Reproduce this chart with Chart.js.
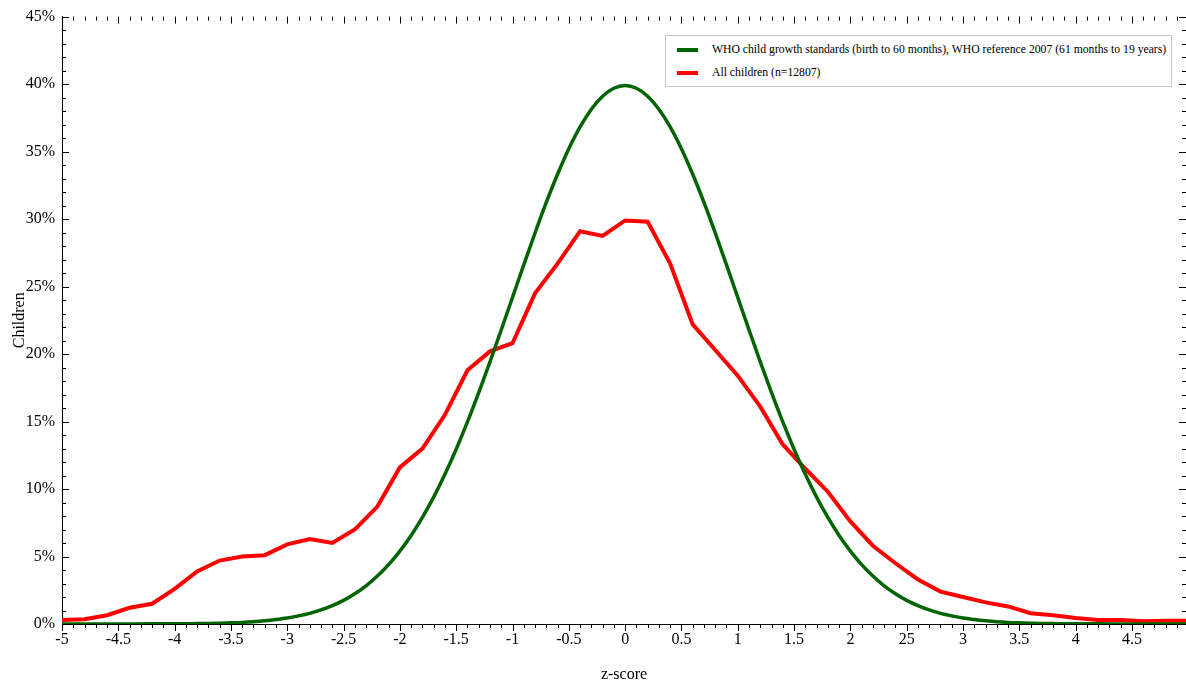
<!DOCTYPE html>
<html lang="en">
<head>
  <meta charset="UTF-8" />
  <title>z-score distribution</title>
  <script src="https://cdn.jsdelivr.net/npm/chart.js"></script>
  <style>
    body { margin: 0; background: #fff; }
    .wrap { position: relative; width: 1186px; height: 684px; }
    .legend {
      position: absolute; left: 665px; top: 35px; width: 505px; height: 50px;
      border: 1px solid #c8c8c8; background: #fff;
      font-family: "Liberation Serif", serif; font-size: 11.7px; color: #000;
    }
    .legend .item { position: absolute; left: 0; height: 14px; line-height: 14px; white-space: nowrap; }
    .legend .swatch { position: absolute; left: 11px; top: 5px; width: 21px; height: 4px; }
    .legend .label { position: absolute; left: 46px; top: 0; }
  </style>
</head>
<body>
  <div class="wrap">
    <canvas id="zChart" width="1186" height="684"></canvas>
    <div class="legend" id="legend"></div>
  </div>

  <script>
    // data
    const seriesNames = [
      ' WHO child growth standards (birth to 60 months), WHO reference 2007 (61 months to 19 years)',
      'All children (n=12807)'
    ];
    const seriesColors = ['#006400', '#ff0000'];

    const whoZ = [-5, -4.5, -4.2, -4.0, -3.9, -3.8, -3.7, -3.6, -3.5, -3.4, -3.3, -3.2, -3.1, -3.0,
      -2.9, -2.8, -2.7, -2.6, -2.5, -2.4, -2.3, -2.2, -2.1, -2.0, -1.9, -1.8, -1.7, -1.6, -1.5,
      -1.4, -1.3, -1.2, -1.1, -1.0, -0.9, -0.8, -0.7, -0.6, -0.5, -0.4, -0.3, -0.2, -0.1, 0,
      0.1, 0.2, 0.3, 0.4, 0.5, 0.6, 0.7, 0.8, 0.9, 1.0, 1.1, 1.2, 1.3, 1.4, 1.5, 1.6, 1.7, 1.8,
      1.9, 2.0, 2.1, 2.2, 2.3, 2.4, 2.5, 2.6, 2.7, 2.8, 2.9, 3.0, 3.1, 3.2, 3.3, 3.4, 3.5, 3.6,
      3.7, 3.8, 3.9, 4.0, 4.2, 4.5, 4.98];
    const whoPct = [0, 0, 0.01, 0.01, 0.02, 0.03, 0.04, 0.06, 0.09, 0.12, 0.17, 0.24, 0.33, 0.44,
      0.60, 0.79, 1.04, 1.36, 1.75, 2.24, 2.83, 3.55, 4.40, 5.40, 6.56, 7.90, 9.40, 11.09, 12.95,
      14.97, 17.14, 19.42, 21.79, 24.20, 26.61, 28.97, 31.23, 33.32, 35.21, 36.83, 38.14, 39.10, 39.69, 39.89,
      39.69, 39.10, 38.14, 36.83, 35.21, 33.32, 31.23, 28.97, 26.61, 24.20, 21.79, 19.42, 17.14, 14.97, 12.95, 11.09, 9.40, 7.90,
      6.56, 5.40, 4.40, 3.55, 2.83, 2.24, 1.75, 1.36, 1.04, 0.79, 0.60, 0.44, 0.33, 0.24, 0.17, 0.12, 0.09, 0.06,
      0.04, 0.03, 0.02, 0.01, 0.01, 0, 0];

    const allZ = [-5, -4.8, -4.6, -4.4, -4.2, -4.0, -3.8, -3.6, -3.4, -3.2, -3.0, -2.8, -2.6, -2.4,
      -2.2, -2.0, -1.8, -1.6, -1.4, -1.2, -1.0, -0.8, -0.6, -0.4, -0.2, 0, 0.2, 0.4, 0.6, 0.8,
      1.0, 1.2, 1.4, 1.6, 1.8, 2.0, 2.2, 2.4, 2.6, 2.8, 3.0, 3.2, 3.4, 3.6, 3.8, 4.0, 4.2, 4.4,
      4.6, 4.8, 4.98];
    const allPct = [0.3, 0.35, 0.65, 1.2, 1.5, 2.6, 3.9, 4.7, 5.0, 5.1, 5.9, 6.3, 6.0, 7.0,
      8.7, 11.6, 13.0, 15.5, 18.8, 20.2, 20.8, 24.5, 26.7, 29.1, 28.75, 29.9, 29.8, 26.7, 22.2, 20.3,
      18.4, 16.1, 13.3, 11.5, 9.8, 7.6, 5.8, 4.5, 3.3, 2.4, 2.0, 1.6, 1.3, 0.8, 0.65, 0.45, 0.3, 0.3,
      0.2, 0.25, 0.25];

    const xTickValues = [-5, -4.5, -4, -3.5, -3, -2.5, -2, -1.5, -1, -0.5, 0, 0.5, 1, 1.5, 2, 2.5, 3, 3.5, 4, 4.5];
    const xTickLabels = ['-5', '-4.5', '-4', '-3.5', '-3', '-2.5', '-2', '-1.5', '-1', '-0.5', '0', '0.5', '1', '1.5', '2', '25', '3', '3.5', '4', '4.5'];
    const yTickValues = [0, 5, 10, 15, 20, 25, 30, 35, 40, 45];

    const serif = 'Liberation Serif';

    // tick marks on all four sides (minor + major), drawn through the scales
    const frameTicks = {
      id: 'frameTicks',
      afterDraw(chart) {
        const { ctx, chartArea: a, scales: { x, y } } = chart;
        ctx.save();
        ctx.strokeStyle = '#000';
        ctx.lineWidth = 1;
        ctx.beginPath();
        for (let i = 0; i < 100; i++) {
          const v = -5 + i * 0.1;
          const px = Math.round(x.getPixelForValue(v)) + 0.5;
          const len = i % 5 === 0 ? 7 : 4;
          ctx.moveTo(px, a.bottom); ctx.lineTo(px, a.bottom + len);
          ctx.moveTo(px, a.top); ctx.lineTo(px, a.top + len);
        }
        for (let i = 0; i <= 45; i++) {
          const py = Math.round(y.getPixelForValue(i)) + 0.5;
          const len = i % 5 === 0 ? 7 : 4;
          ctx.moveTo(a.left, py); ctx.lineTo(a.left + len, py);
          ctx.moveTo(a.right, py); ctx.lineTo(a.right - len, py);
        }
        ctx.stroke();
        ctx.restore();
      }
    };

    const ctx = document.getElementById('zChart').getContext('2d');
    new Chart(ctx, {
      type: 'line',
      data: {
        datasets: [
          {
            label: seriesNames[0],
            data: whoZ.map((z, i) => ({ x: z, y: whoPct[i] })),
            borderColor: seriesColors[0],
            borderWidth: 3.5,
            pointRadius: 0,
            cubicInterpolationMode: 'monotone'
          },
          {
            label: seriesNames[1],
            data: allZ.map((z, i) => ({ x: z, y: allPct[i] })),
            borderColor: seriesColors[1],
            borderWidth: 4,
            pointRadius: 0,
            tension: 0
          }
        ]
      },
      options: {
        responsive: false,
        animation: false,
        layout: { padding: { top: 10, left: 0, right: 0, bottom: 0 } },
        plugins: {
          legend: { display: false },
          tooltip: { enabled: false }
        },
        scales: {
          x: {
            type: 'linear',
            min: -5,
            max: 4.98,
            grid: { display: false, drawTicks: false },
            border: { display: true, color: '#000', width: 1 },
            afterBuildTicks: s => { s.ticks = xTickValues.map(v => ({ value: v })); },
            afterFit: s => { s.height = 60; },
            ticks: {
              autoSkip: false,
              maxRotation: 0,
              padding: 6,
              color: '#000',
              font: { family: serif, size: 16 },
              callback: (v) => xTickLabels[xTickValues.indexOf(v)]
            },
            title: {
              display: true,
              text: 'z-score',
              color: '#000',
              font: { family: serif, size: 16 },
              padding: { top: 0, bottom: 0 }
            }
          },
          y: {
            min: 0,
            max: 45,
            grid: { display: false, drawTicks: false },
            border: { display: true, color: '#000', width: 1 },
            afterBuildTicks: s => { s.ticks = yTickValues.map(v => ({ value: v })); },
            afterFit: s => { s.width = 62; },
            ticks: {
              padding: 7,
              color: '#000',
              font: { family: serif, size: 16 },
              callback: v => v + '%'
            },
            title: {
              display: true,
              text: 'Children',
              color: '#000',
              font: { family: serif, size: 16 },
              padding: { top: 10, bottom: 0 }
            }
          }
        }
      },
      plugins: [frameTicks]
    });

    // legend box
    const legend = document.getElementById('legend');
    const legendTops = [7, 30];
    seriesNames.forEach((name, i) => {
      const item = document.createElement('div');
      item.className = 'item';
      item.style.top = legendTops[i] + 'px';
      item.innerHTML = '<span class="swatch" style="background:' + seriesColors[i] + '"></span>' +
        '<span class="label"></span>';
      item.querySelector('.label').textContent = name;
      legend.appendChild(item);
    });
  </script>
</body>
</html>
